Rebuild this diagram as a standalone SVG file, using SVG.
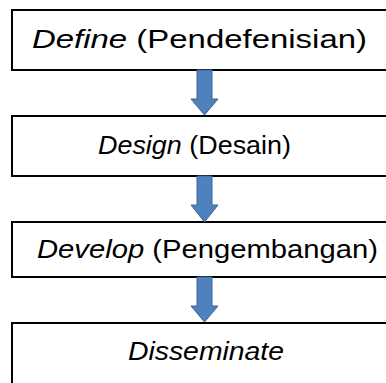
<svg xmlns="http://www.w3.org/2000/svg" width="386" height="383" viewBox="0 0 386 383">
<style>
.box{fill:#fff;stroke:#000;stroke-width:2}
.t{font-family:"Liberation Sans",Arial,sans-serif;font-size:26px;fill:#000}
.i{font-style:italic}
.arr{fill:#4F81BD;stroke:#3A6596;stroke-width:1}
</style>
<rect width="386" height="383" fill="#fff"/>
<g id="node-define">
<rect class="box" x="12" y="10" width="390" height="60"/>
<text class="t" x="32" y="48" textLength="335" lengthAdjust="spacingAndGlyphs"><tspan class="i">Define</tspan> (Pendefenisian)</text>
</g>
<g id="node-design">
<rect class="box" x="12" y="116" width="390" height="60"/>
<text class="t" x="98" y="154" textLength="193" lengthAdjust="spacingAndGlyphs"><tspan class="i">Design</tspan> (Desain)</text>
</g>
<g id="node-develop">
<rect class="box" x="12" y="222" width="390" height="55"/>
<text class="t" x="37" y="258" textLength="341" lengthAdjust="spacingAndGlyphs"><tspan class="i">Develop</tspan> (Pengembangan)</text>
</g>
<g id="node-disseminate">
<rect class="box" x="12" y="323" width="390" height="80"/>
<text class="t i" x="128" y="360" textLength="156" lengthAdjust="spacingAndGlyphs">Disseminate</text>
</g>
<g id="connectors">
<polygon class="arr" points="197,70 212,70 212,99 218,99 204.5,115 191,99 197,99"/>
<polygon class="arr" points="197,176 212,176 212,205 218,205 204.5,222 191,205 197,205"/>
<polygon class="arr" points="197,277 212,277 212,306 218,306 204.5,322 191,306 197,306"/>
</g>
</svg>
